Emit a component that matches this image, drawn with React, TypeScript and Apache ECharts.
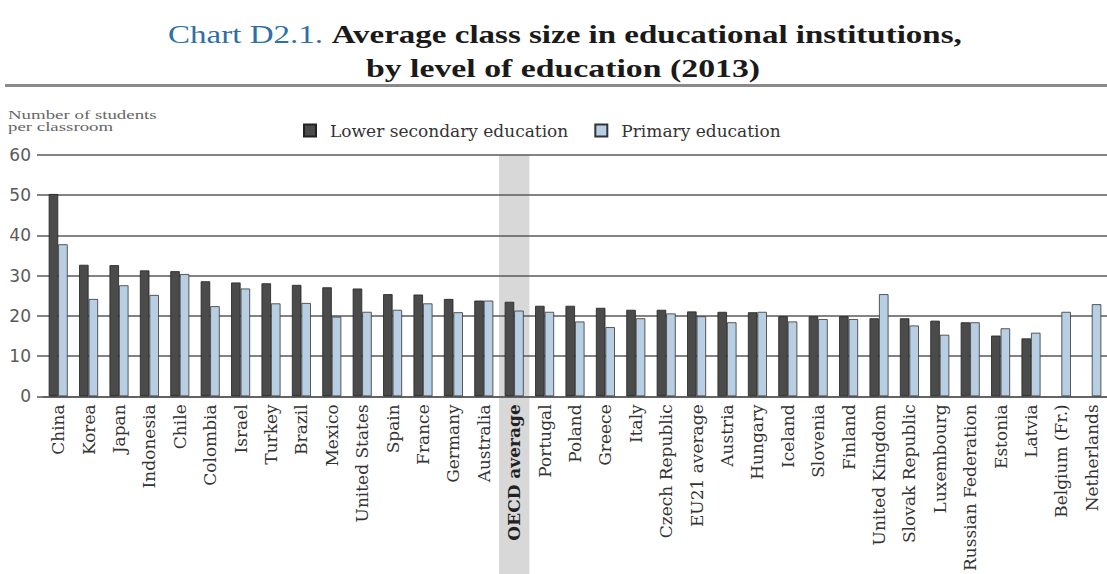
import React, { useEffect, useRef } from "react";
import * as echarts from "echarts";

const categories = [
  "China", "Korea", "Japan", "Indonesia", "Chile", "Colombia", "Israel", "Turkey", "Brazil", "Mexico",
  "United States", "Spain", "France", "Germany", "Australia", "OECD average", "Portugal", "Poland", "Greece", "Italy",
  "Czech Republic", "EU21 average", "Austria", "Hungary", "Iceland", "Slovenia", "Finland", "United Kingdom", "Slovak Republic", "Luxembourg",
  "Russian Federation", "Estonia", "Latvia", "Belgium (Fr.)", "Netherlands",
];

const lowerSecondary = [
  50.3, 32.7, 32.6, 31.3, 31.1, 28.6, 28.3, 28.1, 27.7, 27.1,
  26.8, 25.4, 25.3, 24.2, 23.8, 23.5, 22.5, 22.5, 22.0, 21.5,
  21.5, 21.1, 21.0, 20.9, 19.9, 19.9, 19.9, 19.4, 19.4, 18.8,
  18.4, 15.1, 14.4, null, null,
];

const primary = [
  37.8, 24.2, 27.6, 25.2, 30.4, 22.4, 26.8, 23.1, 23.2, 19.8,
  21.0, 21.5, 23.1, 20.9, 23.8, 21.3, 21.0, 18.6, 17.2, 19.4,
  20.6, 19.9, 18.4, 21.0, 18.6, 19.2, 19.2, 25.4, 17.6, 15.3,
  18.4, 16.9, 15.8, 21.0, 22.9,
];

const yTicks = { min: 0, max: 60, interval: 10 };
const seriesNames = ["Lower secondary education", "Primary education"];
const highlightCategory = "OECD average";

export default function App() {
  const ref = useRef<HTMLDivElement>(null);

  useEffect(() => {
    document.body.style.margin = "0";
    if (!ref.current) return;
    const chart = echarts.init(ref.current, undefined, { renderer: "svg" });
    const serif = "Liberation Serif";
    const wideSerif = "DejaVu Serif";
    const option: any = {
      animation: false,
      backgroundColor: "#ffffff",
      textStyle: { fontFamily: wideSerif },
      grid: { left: 43, right: -3, top: 155, bottom: 176, containLabel: false },
      legend: {
        left: 298,
        top: 117,
        itemWidth: 12,
        itemHeight: 12,
        itemGap: 26,
        icon: "rect",
        formatter: (n: string) => "{t|" + n + "}",
        textStyle: {
          fontFamily: wideSerif,
          fontSize: 17,
          color: "#333",
          rich: { t: { fontFamily: wideSerif, fontSize: 17, color: "#333", padding: [0, 0, 0, 9] } },
        },
        data: seriesNames,
      },
      xAxis: {
        type: "category",
        data: categories,
        axisTick: { show: false },
        axisLine: { lineStyle: { color: "#5a5a5a", width: 1.5 } },
        axisLabel: {
          interval: 0,
          rotate: 90,
          margin: 8,
          fontFamily: wideSerif,
          fontSize: 17,
          color: "#333",
          formatter: (v: string) => (v === highlightCategory ? "{b|" + v + "}" : v),
          rich: { b: { fontWeight: "bold", fontFamily: wideSerif, fontSize: 17, color: "#222" } },
        },
      },
      yAxis: {
        type: "value",
        min: yTicks.min,
        max: yTicks.max,
        interval: yTicks.interval,
        axisLine: { show: false },
        axisTick: { show: true, length: 6, lineStyle: { color: "#5a5a5a", width: 1.5 } },
        splitLine: { lineStyle: { color: "#5a5a5a", width: 1.5 } },
        axisLabel: { fontFamily: "DejaVu Sans", fontSize: 17, color: "#5a5a5a", margin: 12 },
      },
      series: [
        {
          name: seriesNames[0],
          type: "bar",
          data: lowerSecondary,
          barWidth: 9.5,
          barGap: "0%",
          itemStyle: { color: "#4b4b4b", borderColor: "#222", borderWidth: 0.8 },
          z: 3,
        },
        {
          name: seriesNames[1],
          type: "bar",
          data: primary,
          barWidth: 9.5,
          barGap: "0%",
          itemStyle: { color: "#b8cee3", borderColor: "#333", borderWidth: 0.8 },
          z: 3,
        },
      ],
    };
    chart.setOption(option);

    const cx = chart.convertToPixel({ xAxisIndex: 0 }, highlightCategory) as number;
    const yTop = chart.convertToPixel({ yAxisIndex: 0 }, yTicks.max) as number;
    const c0 = chart.convertToPixel({ xAxisIndex: 0 }, categories[0]) as number;
    const c1 = chart.convertToPixel({ xAxisIndex: 0 }, categories[1]) as number;
    const bandW = c1 - c0;

    chart.setOption({
      graphic: [
        {
          type: "rect",
          z: -10,
          silent: true,
          shape: { x: cx - bandW / 2, y: yTop, width: bandW, height: 574 - yTop },
          style: { fill: "#d8d8d8" },
        },
        {
          type: "text",
          x: 565,
          y: 21,
          scaleX: 1.27,
          style: {
            text: "{a|Chart D2.1.}  {b|Average class size in educational institutions,}",
            align: "center",
            rich: {
              a: { fontFamily: serif, fontSize: 26, fill: "#2f6fa6" },
              b: { fontFamily: serif, fontSize: 26, fontWeight: "bold", fill: "#1a1a1a" },
            },
          },
        },
        {
          type: "text",
          x: 563,
          y: 55,
          scaleX: 1.3,
          style: {
            text: "by level of education (2013)",
            align: "center",
            fontFamily: serif,
            fontSize: 26,
            fontWeight: "bold",
            fill: "#1a1a1a",
          },
        },
        {
          type: "rect",
          shape: { x: 5, y: 84, width: 1102, height: 3 },
          style: { fill: "#8a8a8a" },
        },
        {
          type: "text",
          x: 8,
          y: 109,
          scaleX: 1.45,
          style: {
            text: "Number of students\nper classroom",
            fontFamily: serif,
            fontSize: 13,
            lineHeight: 12,
            fill: "#666",
          },
        },
      ],
    });

    return () => chart.dispose();
  }, []);

  return <div ref={ref} style={{ width: 1107, height: 574 }} />;
}
